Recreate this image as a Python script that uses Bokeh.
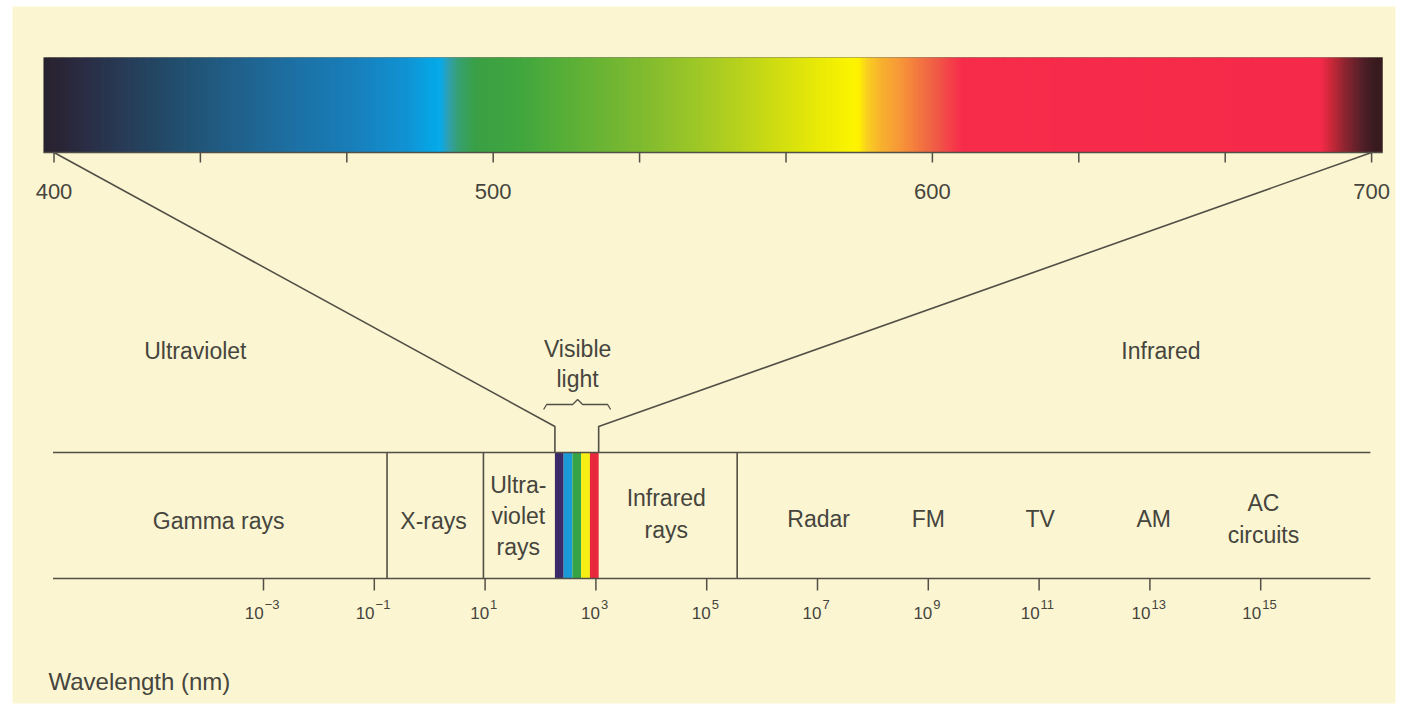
import numpy as np
from bokeh.plotting import figure
from bokeh.models import Range1d
from bokeh.core.properties import value
from bokeh.embed import file_html
from bokeh.resources import INLINE

# ---------------- data ----------------
# colour stops of the visible-spectrum bar (wavelength in nm, colour)
spectrum_nm = [397.6, 401.5, 407.2, 415.1, 426.5, 441.3, 456.1, 468.6, 480.0,
               486.2, 488.0, 489.8, 492.1, 496.0, 506.2, 515.3, 524.4, 535.8,
               547.2, 556.3, 565.4, 574.5, 581.4, 583.2, 585.0, 588.2, 592.8,
               597.3, 600.7, 604.1, 606.9, 688.4, 691.1, 694.1, 697.5, 700.2, 702.5]
spectrum_colors = ["#28222e", "#2a2536", "#2a2d45", "#283a55", "#224c6a", "#20608a",
                   "#1c72a6", "#187fbb", "#1192d2", "#06a6e6", "#08aae8", "#30a0b0",
                   "#36a070", "#3aa045", "#40a63e", "#55ae38", "#6ab434", "#84bc2e",
                   "#a0c826", "#b8d21c", "#d2de10", "#eaea06", "#fbf400", "#fff200",
                   "#f9d020", "#f7b22e", "#f79638", "#f27440", "#f05c46", "#f4404a",
                   "#f72c4b", "#f52a4a", "#c42838", "#8a2430", "#58202a", "#3c1c20",
                   "#341a1e"]
nm_minor_ticks = [400, 433.33, 466.67, 500, 533.33, 566.67, 600, 633.33, 666.67, 700]
nm_labels = ["400", "500", "600", "700"]
nm_label_values = [400, 500, 600, 700]

# electromagnetic spectrum, positions as log10(wavelength / nm)
band_extent_log = [-6.8, 16.98]
band_divider_log = [-0.77, 0.97, 5.55]
visible_log = [2.26, 3.05]
visible_stripe_colors = ["#3a2a6a", "#1b9ad8", "#34a446", "#f7ee14", "#e8283c"]
band_names = ["Gamma rays", "X-rays", "Ultra-\nviolet\nrays", "Infrared\nrays",
              "Radar", "FM", "TV", "AM", "AC\ncircuits"]
band_label_log = [-3.81, 0.07, 1.6, 4.27, 7.02, 9.0, 11.02, 13.07, 15.05]
decade_exponents = [-3, -1, 1, 3, 5, 7, 9, 11, 13, 15]
region_names = ["Ultraviolet", "Visible\nlight", "Infrared"]
region_label_log = [-4.23, 2.67, 13.2]
axis_title = "Wavelength (nm)"

# ---------------- layout / style ----------------
W, H = 1401, 707
FL, FT, FR, FB = 12, 6, 6, 4          # white paper margins round the cream area
FW, FH = W - FL - FR, H - FT - FB
PX_PER_DECADE = 55.4
XL = -3 - (263 - FL) / PX_PER_DECADE
XR = XL + FW / PX_PER_DECADE
PX_PER_NM = 4.392
NL = 400 - (53.5 - FL) / PX_PER_NM
NR = NL + FW / PX_PER_NM

BG = "#fbf5d2"
INK = "#46453d"
LINE = "#524f46"
FONT = value("Liberation Sans")

BAR_TOP, BAR_BOT = 57, 152
BAND_TOP, BAND_BOT = 452, 578
JOIN_Y = 426


def nm_to_log(nm):
    return XL + (nm - NL) / (NR - NL) * (XR - XL)


def px(d):
    return d / PX_PER_DECADE


p = figure(width=W, height=H, x_range=Range1d(XL, XR), y_range=Range1d(FT + FH, FT),
           output_backend="svg", toolbar_location=None,
           x_axis_location=None, y_axis_location=None,
           background_fill_color=BG, border_fill_color="#ffffff",
           min_border_left=FL, min_border_top=FT, min_border_right=FR,
           min_border_bottom=FB)
p.outline_line_color = None
p.grid.visible = False
p.extra_x_ranges = {"nm": Range1d(NL, NR)}

# ---- spectrum bar (gradient) ----
stops = np.array(spectrum_nm)
rgb = np.array([[int(c[i:i + 2], 16) for i in (1, 3, 5)] for c in spectrum_colors], float)
step = 0.5
lefts = np.arange(spectrum_nm[0], spectrum_nm[-1], step)
rights = np.minimum(lefts + step + 0.35, spectrum_nm[-1])
mids = lefts + step / 2
cols = ["#%02x%02x%02x" % tuple(int(round(np.interp(m, stops, rgb[:, k]))) for k in range(3))
        for m in mids]
p.quad(left=lefts, right=rights, top=BAR_TOP, bottom=BAR_BOT, fill_color=cols,
       line_color=None, x_range_name="nm")
p.line([spectrum_nm[0], spectrum_nm[-1]], [BAR_BOT, BAR_BOT], line_color=LINE,
       line_width=1.6, x_range_name="nm")
p.line([spectrum_nm[0], spectrum_nm[-1]], [BAR_TOP, BAR_TOP], line_color=LINE,
       line_width=0.8, line_alpha=0.5, x_range_name="nm")

# ticks and labels of the bar
p.segment(x0=nm_minor_ticks, x1=nm_minor_ticks, y0=[BAR_BOT] * len(nm_minor_ticks),
          y1=[BAR_BOT + 10] * len(nm_minor_ticks), line_color=LINE, line_width=1.5,
          x_range_name="nm")
p.text(x=nm_label_values, y=[191] * 4, text=nm_labels, x_range_name="nm",
       text_align="center", text_baseline="middle", text_font=FONT,
       text_font_size="22px", text_color=INK)

# ---- connecting lines ----
xl0 = nm_to_log(400)
xr0 = nm_to_log(700)
p.line([xl0, visible_log[0], visible_log[0]], [BAR_BOT, JOIN_Y, BAND_TOP],
       line_color=LINE, line_width=1.6)
p.line([xr0, visible_log[1], visible_log[1]], [BAR_BOT, JOIN_Y, BAND_TOP],
       line_color=LINE, line_width=1.6)

# bracket under "Visible light"
bl, bm, br = region_label_log[1] - px(34), region_label_log[1], region_label_log[1] + px(33)
p.line([bl, bl + px(3), bm - px(5), bm, bm + px(5), br - px(3), br],
       [409, 404, 404, 399, 404, 404, 409], line_color=LINE, line_width=1.3)

# ---- band box ----
n = len(visible_stripe_colors)
edges = np.linspace(visible_log[0], visible_log[1], n + 1)
p.quad(left=edges[:-1], right=edges[1:], top=BAND_TOP, bottom=BAND_BOT,
       fill_color=visible_stripe_colors, line_color=None)
p.segment(x0=[band_extent_log[0]] * 2, x1=[band_extent_log[1]] * 2,
          y0=[BAND_TOP, BAND_BOT], y1=[BAND_TOP, BAND_BOT], line_color=LINE, line_width=1.6)
p.segment(x0=band_divider_log, x1=band_divider_log, y0=[BAND_TOP] * 3,
          y1=[BAND_BOT] * 3, line_color=LINE, line_width=1.6)

# band labels
band_y = [520, 520, 515.5, 513.5, 518, 518, 518, 518, 518.5]
p.text(x=band_label_log, y=band_y, text=band_names, text_align="center",
       text_baseline="middle", text_font=FONT, text_font_size="23px",
       text_color=INK, text_line_height=1.2)

# region labels
p.text(x=region_label_log, y=[350, 363.5, 350], text=region_names, text_align="center",
       text_baseline="middle", text_font=FONT, text_font_size="23px",
       text_color=INK, text_line_height=1.17)

# ---- decade ticks ----
p.segment(x0=decade_exponents, x1=decade_exponents, y0=[BAND_BOT] * len(decade_exponents),
          y1=[BAND_BOT + 12] * len(decade_exponents), line_color=LINE, line_width=1.5)
exp_txt = [("\u2212" + str(-e)) if e < 0 else str(e) for e in decade_exponents]
base_w = 18.0
exp_w = [sum(7.5 if ch == "\u2212" else 7.0 for ch in t) for t in exp_txt]
base_x = [e - px((base_w + 1 + w) / 2) + px(base_w - 1) for e, w in zip(decade_exponents, exp_w)]
p.text(x=base_x, y=[612] * len(base_x), text=["10"] * len(base_x), text_align="right",
       text_baseline="middle", text_font=FONT, text_font_size="17px", text_color=INK)
p.text(x=[b + px(1) for b in base_x], y=[604] * len(base_x), text=exp_txt,
       text_align="left", text_baseline="middle", text_font=FONT,
       text_font_size="13px", text_color=INK)

# axis title
p.text(x=[XL + px(48 - FL)], y=[681], text=[axis_title], text_align="left",
       text_baseline="middle", text_font=FONT, text_font_size="24px", text_color=INK)

open("out.html", "w").write(file_html(p, INLINE))
